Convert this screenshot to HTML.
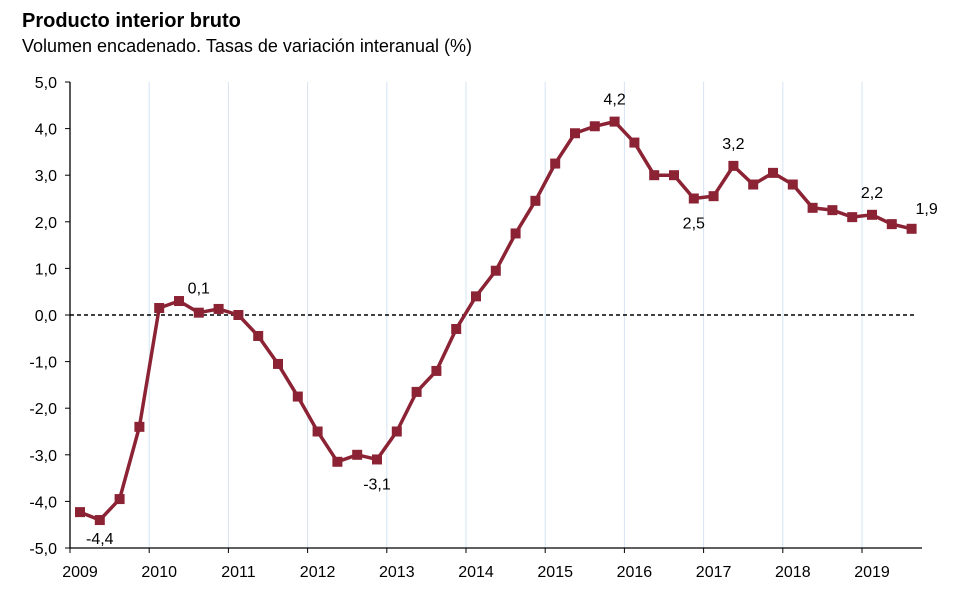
<!DOCTYPE html>
<html><head><meta charset="utf-8"><style>
body{margin:0;background:#fff;font-family:"Liberation Sans",Arial,sans-serif}
svg{display:block}
</style></head><body>
<svg width="959" height="597">
<text x="22" y="27" font-size="20" font-weight="bold">Producto interior bruto</text>
<text x="22" y="52" font-size="18">Volumen encadenado. Tasas de variación interanual (%)</text>
<g id="g"></g>
</svg>
<script>
const years=[2009,2010,2011,2012,2013,2014,2015,2016,2017,2018,2019];
const yTicks=[5,4,3,2,1,0,-1,-2,-3,-4,-5];
const values=[-4.23,-4.4,-3.95,-2.4, 0.15,0.3,0.05,0.13, 0.0,-0.45,-1.05,-1.75, -2.5,-3.15,-3.0,-3.1, -2.5,-1.65,-1.2,-0.3, 0.4,0.95,1.75,2.45, 3.25,3.9,4.05,4.15, 3.7,3.0,3.0,2.5, 2.55,3.2,2.8,3.05, 2.8,2.3,2.25,2.1, 2.15,1.95,1.85];
const labelIdx=[1,6,15,27,31,33,40,42];
const labelText=["-4,4","0,1","-3,1","4,2","2,5","3,2","2,2","1,9"];
const labelPos=["below","above","below","above","below","above","above","aboveright"];
const X0=70,YW=79.2,Y0=315,YU=46.6;
const xq=i=>X0+10+i*YW/4;
const xy=y=>X0+(y-2009)*YW;
const yv=v=>Y0-v*YU;
const g=document.getElementById('g');const NS='http://www.w3.org/2000/svg';
function mk(t,a,p){const e=document.createElementNS(NS,t);for(const k in a)e.setAttribute(k,a[k]);(p||g).appendChild(e);return e;}
years.forEach((y,i)=>{
 if(i>0){const l=mk('line',{x1:xy(y),x2:xy(y),y1:yv(5),y2:yv(-5),stroke:'#d6e4f3','stroke-width':1});
 
 }
 mk('line',{x1:xy(y),x2:xy(y),y1:yv(-5),y2:yv(-5)+5,stroke:'#000'});
 const t=mk('text',{x:xy(y)+10,y:577,'font-size':16,'text-anchor':'middle'});t.textContent=y;
 
 
});
yTicks.forEach(v=>{
 mk('line',{x1:X0-5,x2:X0,y1:yv(v),y2:yv(v),stroke:'#000'});
 const t=mk('text',{x:57,y:yv(v)+6,'font-size':16,'text-anchor':'end'});t.textContent=v.toFixed(1).replace('.',',');
 
 
});
const ax=mk('path',{d:`M${X0},${yv(5)}V${yv(-5)}H922`,fill:'none',stroke:'#000','stroke-width':1.3});


const z=mk('line',{x1:X0,x2:915,y1:yv(0),y2:yv(0),stroke:'#000','stroke-width':1.5,'stroke-dasharray':'4,3'});


const ln=mk('polyline',{points:values.map((v,i)=>xq(i)+','+yv(v)).join(' '),fill:'none',stroke:'#8b2335','stroke-width':3.5});


values.forEach((v,i)=>{
 const r=mk('rect',{x:xq(i)-5,y:yv(v)-5,width:10,height:10,fill:'#8b2335'});
 
 
});
labelIdx.forEach((i,k)=>{
 const p=labelPos[k];let x=xq(i),y=yv(values[i]);
 if(p==='below'){y+=(i===1?24:30);} else if(p==='above'){y-=(i===6?19:17);} else {x+=15;y-=15;}
 const t=mk('text',{x:x,y:y,'font-size':16,'text-anchor':'middle'});t.textContent=labelText[k];
 
 
});
</script>
</body></html>
